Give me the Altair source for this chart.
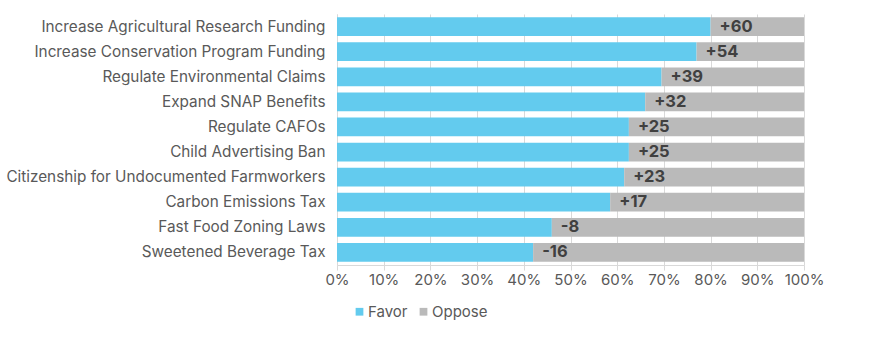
import altair as alt
import pandas as pd

policies = [
    "Increase Agricultural Research Funding",
    "Increase Conservation Program Funding",
    "Regulate Environmental Claims",
    "Expand SNAP Benefits ",
    "Regulate CAFOs",
    "Child Advertising Ban",
    "Citizenship for Undocumented Farmworkers",
    "Carbon Emissions Tax",
    "Fast Food Zoning Laws",
    "Sweetened Beverage Tax",
]
favor = [80, 77, 69.5, 66, 62.5, 62.5, 61.5, 58.5, 46, 42]
oppose = [20, 23, 30.5, 34, 37.5, 37.5, 38.5, 41.5, 54, 58]
net_labels = ["+60", "+54", "+39", "+32", "+25", "+25", "+23", "+17", "-8", "-16"]
x_ticks = [0, 10, 20, 30, 40, 50, 60, 70, 80, 90, 100]

rows = []
for p, f, o in zip(policies, favor, oppose):
    rows.append({"policy": p, "group": "Favor", "value": f, "ord": 0})
    rows.append({"policy": p, "group": "Oppose", "value": o, "ord": 1})
df = pd.DataFrame(rows)
lab = pd.DataFrame({"policy": policies, "favor": favor, "label": net_labels})

FONT = "Inter"
y_enc = alt.Y("policy:N", sort=policies, title=None,
              scale=alt.Scale(paddingInner=0.255, paddingOuter=0.13),
              axis=alt.Axis(labelFontSize=15.3, labelColor="#595959", labelFont=FONT,
                            ticks=False, labelPadding=12, domainColor="#D9D9D9",
                            labelLimit=400))

bars = alt.Chart(df).mark_bar().encode(
    x=alt.X("value:Q", stack="zero", title=None,
            scale=alt.Scale(domain=[0, 100], nice=False),
            axis=alt.Axis(values=x_ticks, labelExpr="datum.value + '%'",
                          labelFontSize=15, labelColor="#595959", labelFont=FONT,
                          labelOverlap=False, labelFlush=False,
                          grid=True, gridColor="#D9D9D9", tickColor="#D9D9D9",
                          tickSize=5, domainColor="#D9D9D9", labelPadding=2)),
    y=y_enc,
    color=alt.Color("group:N",
                    scale=alt.Scale(domain=["Favor", "Oppose"], range=["#63CBEE", "#BABABA"]),
                    legend=alt.Legend(title=None, orient="none", direction="horizontal",
                                      legendX=15, legendY=290, symbolType="square",
                                      symbolSize=60, symbolStrokeWidth=0,
                                      labelFontSize=15, labelColor="#595959", labelFont=FONT,
                                      columnPadding=8, symbolOffset=0, labelOffset=1)),
    order=alt.Order("ord:Q"),
)

texts = alt.Chart(lab).mark_text(align="left", baseline="middle", dx=9,
                                 fontSize=16.5, fontWeight="bold", color="#404040",
                                 font=FONT).encode(
    x=alt.X("favor:Q"),
    y=alt.Y("policy:N", sort=policies),
    text="label:N",
)

chart = (bars + texts).properties(
    width=467, height=251,
    autosize=alt.AutoSizeParams(type="none"),
    padding={"left": 337, "top": 14, "right": 86, "bottom": 73},
).configure_view(stroke=None)

chart.save("out.html", embed_options={"renderer": "svg", "actions": False})
